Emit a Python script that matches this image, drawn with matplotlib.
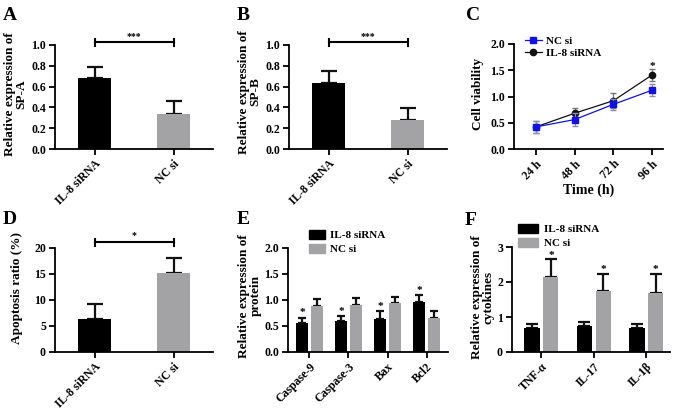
import numpy as np
import matplotlib.pyplot as plt
from matplotlib.patches import Patch
from matplotlib.lines import Line2D

plt.rcParams['font.family'] = ['Liberation Serif', 'DejaVu Serif']
plt.rcParams['font.weight'] = 'bold'
plt.rcParams['axes.linewidth'] = 1.3
plt.rcParams['xtick.major.width'] = 1.3
plt.rcParams['ytick.major.width'] = 1.3
plt.rcParams['xtick.major.size'] = 4
plt.rcParams['ytick.major.size'] = 4

# data
groups = ['IL-8 siRNA', 'NC si']
spa_mean = [0.68, 0.34]
spa_err = [0.11, 0.12]
spb_mean = [0.63, 0.28]
spb_err = [0.12, 0.11]

time_labels = ['24 h', '48 h', '72 h', '96 h']
via_nc = [0.42, 0.56, 0.85, 1.12]
via_nc_err = [0.12, 0.13, 0.10, 0.11]
via_il8 = [0.42, 0.68, 0.92, 1.41]
via_il8_err = [0.11, 0.11, 0.14, 0.11]

apo_mean = [6.3, 15.2]
apo_err = [2.9, 2.9]

proteins = ['Caspase-9', 'Caspase-3', 'Bax', 'Bcl2']
prot_il8 = [0.55, 0.59, 0.63, 0.97]
prot_il8_err = [0.11, 0.10, 0.15, 0.12]
prot_nc = [0.89, 0.91, 0.95, 0.66]
prot_nc_err = [0.12, 0.13, 0.11, 0.13]

cytokines = ['TNF-α', 'IL-17', 'IL-1β']
cyt_il8 = [0.68, 0.75, 0.68]
cyt_il8_err = [0.12, 0.12, 0.13]
cyt_nc = [2.15, 1.75, 1.70]
cyt_nc_err = [0.50, 0.48, 0.53]

BLACK = '#000000'
GRAY = '#a3a3a5'
BLUE = '#1010ee'

W, H = 677, 409
fig = plt.figure(figsize=(W / 100, H / 100), dpi=100)


def px_axes(x0, x1, ytop, ybot):
    return fig.add_axes([x0 / W, 1 - ybot / H, (x1 - x0) / W, (ybot - ytop) / H])


def style(ax):
    ax.spines['top'].set_visible(False)
    ax.spines['right'].set_visible(False)
    ax.tick_params(labelsize=8.5, pad=2.5)
    for t in ax.get_yticklabels():
        t.set_fontweight('bold')


def up_bars(ax, x, vals, errs, width, color, cap):
    ax.bar(x, vals, width, color=color, zorder=2)
    ax.errorbar(x, vals, yerr=[np.zeros(len(vals)), errs], fmt='none',
                ecolor='#111111', elinewidth=1.6, capsize=cap, capthick=1.6, zorder=1)


def bracket(ax, y, dy, stars, sy):
    ax.plot([0, 1], [y, y], color='black', lw=1.5, clip_on=False)
    ax.plot([0, 0], [y - dy, y + dy], color='black', lw=1.5, clip_on=False)
    ax.plot([1, 1], [y - dy, y + dy], color='black', lw=1.5, clip_on=False)
    ax.text(0.5, sy, stars, ha='center', va='center', fontsize=7)


def ylab(x, y, s, size=9.5):
    fig.text(x / W, 1 - y / H, s, rotation=90, ha='center', va='center',
             multialignment='center', fontsize=size, fontweight='bold',
             linespacing=0.95)


def letter(x, y, s):
    fig.text(x / W, 1 - y / H, s, ha='left', va='top', fontsize=14, fontweight='bold')


def rot_labels(ax, labels):
    ax.set_xticklabels(labels, rotation=45, ha='right', rotation_mode='anchor',
                       fontsize=8, fontweight='bold')


def two_bar_panel(ax, vals, errs, ymax, yticks, yfmt):
    x = np.arange(2)
    up_bars(ax, x[:1], vals[:1], errs[:1], 0.42, BLACK, 5.5)
    up_bars(ax, x[1:], vals[1:], errs[1:], 0.42, GRAY, 5.5)
    ax.set_xlim(-0.5, 1.5)
    ax.set_ylim(0, ymax)
    ax.set_yticks(yticks)
    ax.set_yticklabels([yfmt.format(v) for v in yticks])
    ax.set_xticks(x)
    rot_labels(ax, groups)
    style(ax)


# A
axA = px_axes(55, 213, 45, 149)
two_bar_panel(axA, spa_mean, spa_err, 1.0, [0, 0.2, 0.4, 0.6, 0.8, 1.0], '{:.1f}')
bracket(axA, 1.025, 0.035, '***', 1.085)

# B
axB = px_axes(289, 447, 45, 149)
two_bar_panel(axB, spb_mean, spb_err, 1.0, [0, 0.2, 0.4, 0.6, 0.8, 1.0], '{:.1f}')
bracket(axB, 1.025, 0.035, '***', 1.085)

# C
axC = px_axes(514, 663, 44, 149)
tx = np.arange(4)
axC.errorbar(tx, via_nc, yerr=via_nc_err, color=BLUE, marker='s', ms=4.5, lw=0.9,
             ecolor='#8a8ac8', elinewidth=0.9, capsize=2.5, label='NC si', zorder=3)
axC.errorbar(tx, via_il8, yerr=via_il8_err, color='#111111', marker='o', ms=4.5, lw=0.9,
             ecolor='#777777', elinewidth=0.9, capsize=2.5, label='IL-8 siRNA', zorder=2)
axC.text(3, via_il8[3] + via_il8_err[3] + 0.05, '*', ha='center', va='center', fontsize=8)
axC.set_xlim(-0.56, 3.28)
axC.set_ylim(0, 2.0)
axC.set_yticks([0, 0.5, 1.0, 1.5, 2.0])
axC.set_yticklabels(['0.0', '0.5', '1.0', '1.5', '2.0'])
axC.set_xticks(tx)
rot_labels(axC, time_labels)
axC.set_xlabel('Time (h)', fontsize=10, fontweight='bold', labelpad=1)
style(axC)
leg_handles = [
    Line2D([], [], color=BLUE, marker='s', ms=4.5, lw=0.9),
    Line2D([], [], color='#111111', marker='o', ms=4.5, lw=0.9),
]
axC.legend(leg_handles, ['NC si', 'IL-8 siRNA'], loc='upper left',
           bbox_to_anchor=(525 / W, 1 - 36 / H), bbox_transform=fig.transFigure,
           frameon=False, fontsize=8, handlelength=1.5, handletextpad=0.4,
           borderpad=0, borderaxespad=0, labelspacing=0.2)

# D
axD = px_axes(55, 213, 248, 352)
two_bar_panel(axD, apo_mean, apo_err, 20, [0, 5, 10, 15, 20], '{:d}')
bracket(axD, 21.1, 0.7, '*', 22.4)

# E
axE = px_axes(288, 448, 248, 352)
px = np.arange(len(proteins))
up_bars(axE, px - 0.19, prot_il8, prot_il8_err, 0.32, BLACK, 3)
up_bars(axE, px + 0.19, prot_nc, prot_nc_err, 0.32, GRAY, 3)
for i in range(len(proteins)):
    axE.text(px[i] - 0.19, prot_il8[i] + prot_il8_err[i] + 0.09, '*',
             ha='center', va='center', fontsize=8)
axE.set_xlim(-0.55, 3.55)
axE.set_ylim(0, 2.0)
axE.set_yticks([0, 0.5, 1.0, 1.5, 2.0])
axE.set_yticklabels(['0.0', '0.5', '1.0', '1.5', '2.0'])
axE.set_xticks(px)
rot_labels(axE, proteins)
style(axE)
bar_handles = [Patch(color=BLACK), Patch(color=GRAY)]
axE.legend(bar_handles, ['IL-8 siRNA', 'NC si'], loc='upper left',
           bbox_to_anchor=(309 / W, 1 - 230 / H), bbox_transform=fig.transFigure,
           frameon=False, fontsize=8, handlelength=1.4, handleheight=0.9,
           handletextpad=0.5, borderpad=0, borderaxespad=0, labelspacing=0.3)

# F
axF = px_axes(512, 670, 247, 352)
cx = np.arange(len(cytokines))
up_bars(axF, cx - 0.18, cyt_il8, cyt_il8_err, 0.29, BLACK, 4)
up_bars(axF, cx + 0.18, cyt_nc, cyt_nc_err, 0.29, GRAY, 4)
for i in range(len(cytokines)):
    axF.text(cx[i] + 0.18, cyt_nc[i] + cyt_nc_err[i] + 0.12, '*',
             ha='center', va='center', fontsize=8)
axF.set_xlim(-0.56, 2.45)
axF.set_ylim(0, 3)
axF.set_yticks([0, 1, 2, 3])
axF.set_xticks(cx)
rot_labels(axF, cytokines)
style(axF)
axF.legend(bar_handles, ['IL-8 siRNA', 'NC si'], loc='upper left',
           bbox_to_anchor=(518 / W, 1 - 224 / H), bbox_transform=fig.transFigure,
           frameon=False, fontsize=8, handlelength=1.8, handleheight=0.9,
           handletextpad=0.5, borderpad=0, borderaxespad=0, labelspacing=0.3)

# y labels and panel letters
ylab(16, 94, 'Relative expression of\nSP-A')
ylab(250, 92, 'Relative expression of\nSP-B')
ylab(478, 94, 'Cell viability')
ylab(17, 288, 'Apoptosis ratio (%)')
ylab(250, 296, 'Relative expression of\nprotein')
ylab(483, 297, 'Relative expression of\ncytokines')

letter(3, 7, 'A')
letter(237, 7, 'B')
letter(466, 7, 'C')
letter(3, 211, 'D')
letter(237, 211, 'E')
letter(465, 212, 'F')

fig.savefig('out.png', dpi=100)
